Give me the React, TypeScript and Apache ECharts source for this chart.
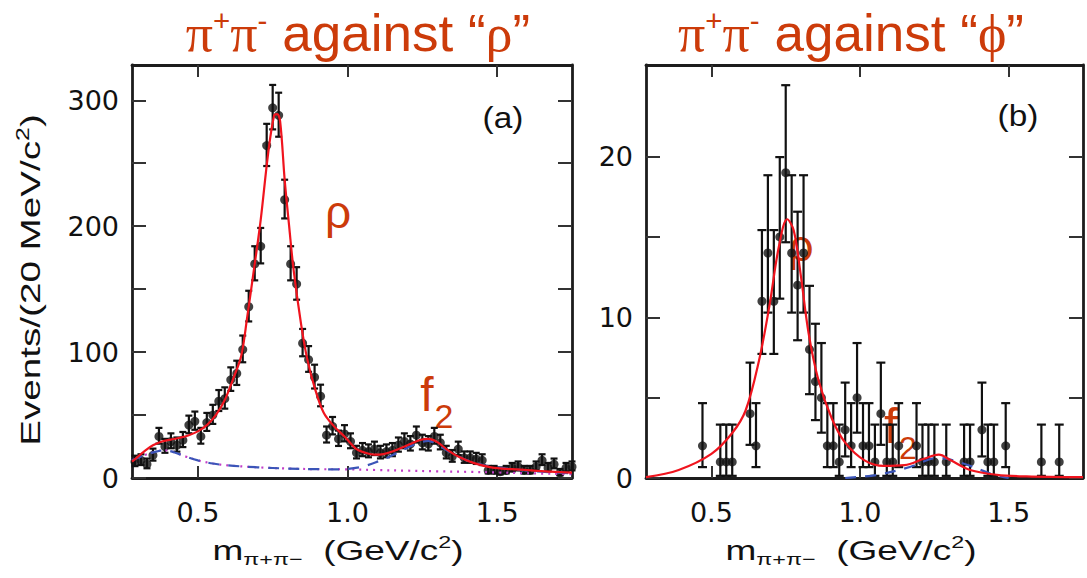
import React, { useEffect, useRef } from "react";
import * as echarts from "echarts";

// ---------- data ----------
const xTicks = [0.5, 1.0, 1.5];
const leftYTicks = [0, 50, 100, 150, 200, 250, 300];
const leftYLabels = [0, 100, 200, 300];
const rightYTicks = [0, 5, 10, 15, 20];
const rightYLabels = [0, 10, 20];

// (a) pi+pi- against "rho": bin centres (GeV/c^2) and events / 20 MeV
const leftMass = [
  0.29, 0.31, 0.33, 0.35, 0.37, 0.39, 0.41, 0.43, 0.45, 0.47, 0.49, 0.51, 0.53, 0.55, 0.57, 0.59,
  0.61, 0.63, 0.65, 0.67, 0.69, 0.71, 0.73, 0.75, 0.77, 0.79, 0.81, 0.83, 0.85, 0.87, 0.89, 0.91,
  0.93, 0.95, 0.97, 0.99, 1.01, 1.03, 1.05, 1.07, 1.09, 1.11, 1.13, 1.15, 1.17, 1.19, 1.21, 1.23,
  1.25, 1.27, 1.29, 1.31, 1.33, 1.35, 1.37, 1.39, 1.41, 1.43, 1.45, 1.47, 1.49, 1.51, 1.53, 1.55,
  1.57, 1.59, 1.61, 1.63, 1.65, 1.67, 1.69, 1.71, 1.73, 1.75,
];
const leftCounts = [
  13, 14, 11, 18, 33, 25, 29, 26, 30, 42, 45, 33, 44, 50, 61, 63,
  78, 83, 102, 136, 170, 184, 264, 294, 288, 221, 170, 154, 107, 94, 80, 65,
  34, 41, 31, 35, 29, 20, 22, 21, 23, 20, 21, 22, 26, 29, 27, 34,
  28, 27, 33, 28, 20, 17, 23, 16, 16, 15, 14, 6, 6, 5, 6, 8,
  9, 6, 6, 9, 14, 8, 11, 4, 8, 9,
];

// (a) fit curves
const leftFitX = [
  0.28, 0.3, 0.325, 0.35, 0.38, 0.41, 0.44, 0.47, 0.5, 0.53, 0.56, 0.59, 0.62, 0.645, 0.665, 0.69,
  0.71, 0.735, 0.755, 0.765, 0.775, 0.79, 0.805, 0.82, 0.845, 0.865, 0.89, 0.92, 0.955, 0.99, 1.03,
  1.06, 1.09, 1.12, 1.15, 1.2, 1.24, 1.27, 1.3, 1.33, 1.37, 1.42, 1.48, 1.55, 1.6, 1.68, 1.75,
];
const leftFitY = [
  13, 17, 22, 26, 29, 30.5, 32, 34, 37, 42, 50, 62, 80, 97, 128, 170,
  205, 258, 288, 289, 283, 237, 200, 165, 122, 95, 72, 52, 41, 33, 23,
  20, 18.5, 19, 21, 26, 30, 31, 28.5, 23, 17, 12, 8.5, 7, 6.3, 5, 4.2,
];
const leftBkgF2X = [
  0.28, 0.32, 0.36, 0.39, 0.42, 0.46, 0.5, 0.55, 0.6, 0.7, 0.8, 0.9, 0.95, 1.0, 1.05, 1.1,
  1.15, 1.2, 1.24, 1.27, 1.3, 1.35, 1.4, 1.45, 1.5, 1.55, 1.65, 1.75,
];
const leftBkgF2Y = [
  14, 18, 21, 22, 20.5, 17, 14, 11.5, 10, 8.5, 7.5, 7, 6.9, 7.2, 9, 13,
  18, 24, 28, 29.5, 26.5, 19.5, 14, 10.5, 8.5, 7, 5, 3.8,
];
const leftBkgX = [
  0.28, 0.32, 0.36, 0.39, 0.42, 0.46, 0.5, 0.55, 0.6, 0.7, 0.8, 0.9, 1.0, 1.1, 1.2, 1.3, 1.4, 1.5,
  1.6, 1.75,
];
const leftBkgY = [
  14, 18, 21, 22, 20.5, 17, 14, 11.5, 10, 8.5, 7.5, 7, 6.9, 6.3, 5.8, 5.3, 4.9, 4.4, 3.8, 3,
];

// (b) pi+pi- against "phi": non-empty bins only
const rightMass = [
  0.47, 0.53, 0.55, 0.57, 0.63, 0.65, 0.67, 0.69, 0.71, 0.73, 0.75, 0.77, 0.79, 0.81, 0.83, 0.85,
  0.87, 0.89, 0.91, 0.93, 0.95, 0.97, 0.99, 1.01, 1.03, 1.05, 1.07, 1.09, 1.11, 1.13, 1.19, 1.21,
  1.23, 1.25, 1.29, 1.35, 1.37, 1.41, 1.43, 1.45, 1.49, 1.61, 1.67,
];
const rightCounts = [
  2, 1, 1, 1, 4, 2, 11, 14, 11, 15, 19, 14, 12, 14, 8, 6,
  5, 2, 2, 1, 3, 2, 5, 2, 2, 1, 4, 1, 1, 2, 2, 1,
  1, 1, 1, 1, 1, 3, 1, 1, 2, 1, 1,
];

// (b) fit curves
const rightFitX = [
  0.28, 0.39, 0.5, 0.57, 0.615, 0.66, 0.695, 0.727, 0.755, 0.777, 0.8, 0.827, 0.86, 0.905, 0.95,
  1.015, 1.08, 1.15, 1.215, 1.265, 1.305, 1.37, 1.46, 1.56, 1.75,
];
const rightFitY = [
  0.05, 0.5, 1.5, 2.8, 4.2, 7.3, 10.7, 14.4, 16.1, 15.4, 12.7, 9, 6.1, 3.7, 2.2,
  1.1, 0.75, 0.8, 1.2, 1.45, 1.1, 0.5, 0.2, 0.1, 0.05,
];
const rightF2X = [0.95, 1.06, 1.17, 1.26, 1.34, 1.45, 1.5];
const rightF2Y = [0, 0.2, 0.7, 1.25, 0.95, 0.2, 0];

// ---------- styling ----------
const SANS = "'Liberation Sans', Arial, Helvetica, sans-serif";
const SERIF = "'Liberation Serif', 'Times New Roman', serif";
const TICK_FONT = "'DejaVu Sans', sans-serif";
const ACCENT = "#cc3b0a";
const FRAME = "#1c1c1c";

// Gehrels approximation of Poisson 68% limits
const lowLimit = (n: number) => (n > 0 ? n - Math.sqrt(n - 0.25) : 0);
const highLimit = (n: number) => n + Math.sqrt(n + 0.75) + 1;

const zip = (xs: number[], ys: number[]) => xs.map((x, i) => [x, ys[i]]);

function makeErrRender(cap: number) {
  return (_params: any, api: any) => {
    const x = api.value(0);
    const bot = api.coord([x, api.value(1)]);
    const top = api.coord([x, api.value(2)]);
    const style = { stroke: "#111", lineWidth: 2.2 };
    return {
      type: "group",
      children: [
        { type: "line", shape: { x1: top[0], y1: top[1], x2: bot[0], y2: bot[1] }, style },
        { type: "line", shape: { x1: top[0] - cap, y1: top[1], x2: top[0] + cap, y2: top[1] }, style },
        { type: "line", shape: { x1: bot[0] - cap, y1: bot[1], x2: bot[0] + cap, y2: bot[1] }, style },
      ],
    };
  };
}

function xAxisDef(grid: number, top: boolean) {
  return {
    type: "value",
    gridIndex: grid,
    position: top ? "top" : "bottom",
    min: 0.28,
    max: 1.75,
    axisLine: { show: true, onZero: false, lineStyle: { color: FRAME, width: 2.8 } },
    axisTick: { show: true, inside: true, length: 12, customValues: xTicks, lineStyle: { color: "#333", width: 2 } },
    axisLabel: {
      show: !top,
      customValues: xTicks,
      formatter: (v: number) => v.toFixed(1),
      margin: 21,
      fontSize: 27,
      fontFamily: TICK_FONT,
      color: "#111",
    },
    splitLine: { show: false },
  };
}

function yAxisDef(grid: number, right: boolean, max: number, ticks: number[], labels: number[]) {
  return {
    type: "value",
    gridIndex: grid,
    position: right ? "right" : "left",
    min: 0,
    max,
    axisLine: { show: true, onZero: false, lineStyle: { color: FRAME, width: 2.8 } },
    axisTick: { show: true, inside: true, length: 14, customValues: ticks, lineStyle: { color: "#333", width: 2 } },
    axisLabel: {
      show: !right,
      customValues: labels,
      formatter: (v: number) => String(v),
      margin: 13,
      fontSize: 27,
      fontFamily: TICK_FONT,
      color: "#111",
    },
    splitLine: { show: false },
  };
}

function titleText(x: number, particle: string) {
  return {
    type: "text",
    x,
    y: 33,
    scaleX: 1.02,
    style: {
      text: `{g|π}{s|+}{g|π}{s|-}{a| against “}{g|${particle}}{a|”}`,
      align: "center",
      verticalAlign: "middle",
      fill: ACCENT,
      rich: {
        g: { fontFamily: SERIF, fontSize: 53, fill: ACCENT },
        a: { fontFamily: SANS, fontSize: 52, fill: ACCENT },
        s: { fontFamily: SANS, fontSize: 29, fill: ACCENT, verticalAlign: "top" },
      },
    },
  };
}

function xTitle(x: number) {
  return {
    type: "text",
    x,
    y: 551,
    scaleX: 1.37,
    style: {
      text: "{m|m}{b|π+π−}{m|  (GeV/c}{p|2}{m|)}",
      align: "center",
      verticalAlign: "middle",
      fill: "#111",
      rich: {
        m: { fontFamily: SANS, fontSize: 27, fill: "#111", lineHeight: 34 },
        b: { fontFamily: SANS, fontSize: 17, fill: "#111", verticalAlign: "bottom" },
        p: { fontFamily: SANS, fontSize: 17, fill: "#111", verticalAlign: "top" },
      },
    },
  };
}

export default function App() {
  const ref = useRef<HTMLDivElement>(null);

  useEffect(() => {
    document.body.style.margin = "0";
    if (!ref.current) return;
    const chart = echarts.init(ref.current, undefined, { renderer: "svg" });

    const leftErr = leftMass.map((x, i) => [x, lowLimit(leftCounts[i]), highLimit(leftCounts[i])]);
    const rightErr = rightMass.map((x, i) => [x, lowLimit(rightCounts[i]), highLimit(rightCounts[i])]);

    const lineBase = { type: "line", showSymbol: false, symbol: "none", smooth: 0.35, silent: true, z: 4 };

    chart.setOption({
      animation: false,
      backgroundColor: "#ffffff",
      grid: [
        { left: 132, top: 65, width: 440, height: 413 },
        { left: 646, top: 65, width: 437, height: 413 },
      ],
      xAxis: [xAxisDef(0, false), xAxisDef(1, false), xAxisDef(0, true), xAxisDef(1, true)],
      yAxis: [
        yAxisDef(0, false, 328, leftYTicks, leftYLabels),
        yAxisDef(1, false, 25.7, rightYTicks, rightYLabels),
        yAxisDef(0, true, 328, leftYTicks, leftYLabels),
        yAxisDef(1, true, 25.7, rightYTicks, rightYLabels),
      ],
      series: [
        {
          type: "custom",
          xAxisIndex: 0,
          yAxisIndex: 0,
          renderItem: makeErrRender(3.5),
          encode: { x: 0, y: [1, 2] },
          data: leftErr,
          z: 2,
        },
        {
          type: "scatter",
          xAxisIndex: 0,
          yAxisIndex: 0,
          symbolSize: 9,
          itemStyle: { color: "#111" },
          data: zip(leftMass, leftCounts),
          z: 3,
        },
        {
          ...lineBase,
          xAxisIndex: 0,
          yAxisIndex: 0,
          lineStyle: { color: "#c23ec8", width: 2.2, type: [2, 5] },
          data: zip(leftBkgX, leftBkgY),
        },
        {
          ...lineBase,
          xAxisIndex: 0,
          yAxisIndex: 0,
          lineStyle: { color: "#3b55b8", width: 2.2, type: [11, 9] },
          data: zip(leftBkgF2X, leftBkgF2Y),
        },
        {
          ...lineBase,
          xAxisIndex: 0,
          yAxisIndex: 0,
          lineStyle: { color: "#f0141e", width: 2.2 },
          data: zip(leftFitX, leftFitY),
          z: 5,
        },
        {
          type: "custom",
          xAxisIndex: 1,
          yAxisIndex: 1,
          renderItem: makeErrRender(4.5),
          encode: { x: 0, y: [1, 2] },
          data: rightErr,
          z: 2,
        },
        {
          type: "scatter",
          xAxisIndex: 1,
          yAxisIndex: 1,
          symbolSize: 9,
          itemStyle: { color: "#111" },
          data: zip(rightMass, rightCounts),
          z: 3,
        },
        {
          ...lineBase,
          xAxisIndex: 1,
          yAxisIndex: 1,
          lineStyle: { color: "#3b55b8", width: 2.2, type: [11, 9] },
          data: zip(rightF2X, rightF2Y),
        },
        {
          ...lineBase,
          xAxisIndex: 1,
          yAxisIndex: 1,
          lineStyle: { color: "#f0141e", width: 2.2 },
          data: zip(rightFitX, rightFitY),
          z: 5,
        },
      ],
      graphic: [
        titleText(358, "ρ"),
        titleText(851, "ϕ"),
        {
          type: "text",
          x: 30,
          y: 280,
          rotation: Math.PI / 2,
          scaleX: 1.38,
          style: {
            text: "{m|Events/(20 MeV/c}{p|2}{m|)}",
            align: "center",
            verticalAlign: "middle",
            fill: "#111",
            rich: {
              m: { fontFamily: SANS, fontSize: 28, fill: "#111", lineHeight: 32 },
              p: { fontFamily: SANS, fontSize: 18, fill: "#111", verticalAlign: "top" },
            },
          },
        },
        xTitle(338),
        xTitle(851),
        {
          type: "text",
          x: 503,
          y: 118,
          scaleX: 1.15,
          style: { text: "(a)", align: "center", verticalAlign: "middle", fontFamily: SANS, fontSize: 29, fill: "#111" },
        },
        {
          type: "text",
          x: 1018,
          y: 116,
          scaleX: 1.15,
          style: { text: "(b)", align: "center", verticalAlign: "middle", fontFamily: SANS, fontSize: 29, fill: "#111" },
        },
        {
          type: "text",
          x: 338,
          y: 212,
          style: { text: "ρ", align: "center", verticalAlign: "middle", fontFamily: SANS, fontSize: 46, fill: ACCENT },
        },
        {
          type: "text",
          x: 427,
          y: 394,
          style: { text: "f", align: "center", verticalAlign: "middle", fontFamily: SANS, fontSize: 48, fill: ACCENT },
        },
        {
          type: "text",
          x: 444,
          y: 416,
          style: { text: "2", align: "center", verticalAlign: "middle", fontFamily: SANS, fontSize: 34, fill: ACCENT },
        },
        {
          type: "text",
          x: 801,
          y: 245,
          style: { text: "ρ", align: "center", verticalAlign: "middle", fontFamily: SANS, fontSize: 44, fill: ACCENT },
        },
        {
          type: "text",
          x: 891,
          y: 426,
          style: { text: "f", align: "center", verticalAlign: "middle", fontFamily: SANS, fontSize: 50, fill: ACCENT },
        },
        {
          type: "text",
          x: 908,
          y: 448,
          style: { text: "2", align: "center", verticalAlign: "middle", fontFamily: SANS, fontSize: 32, fill: ACCENT },
        },
      ],
    });

    return () => chart.dispose();
  }, []);

  return <div ref={ref} style={{ width: 1087, height: 578 }} />;
}
